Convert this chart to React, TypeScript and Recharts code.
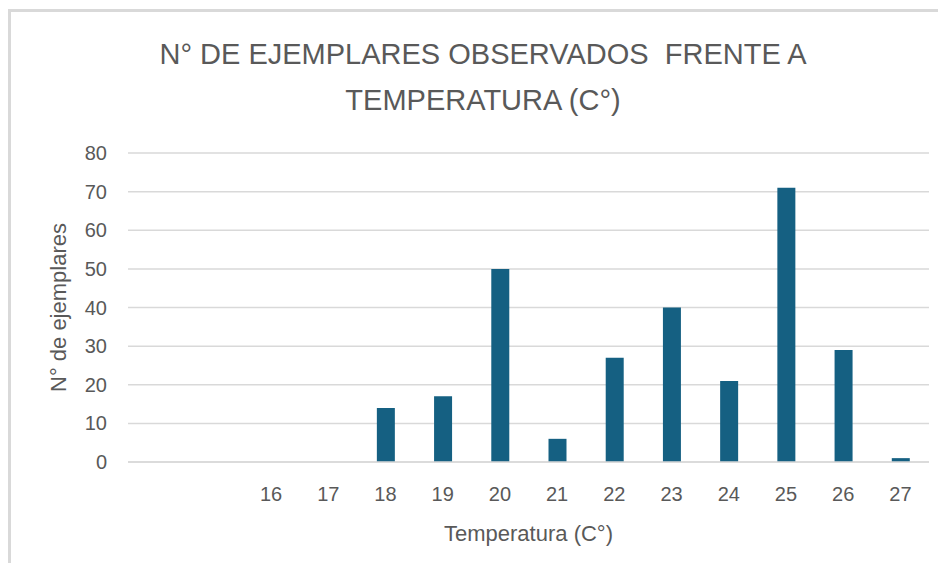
import { BarChart, Bar, XAxis, YAxis, CartesianGrid } from "recharts";

// Temperature categories (two empty slots before 16, as in the original sheet)
const temperatures = ["", "", "16", "17", "18", "19", "20", "21", "22", "23", "24", "25", "26", "27"];
const specimens = [null, null, 0, 0, 14, 17, 50, 6, 27, 40, 21, 71, 29, 1];
const yTicks = [0, 10, 20, 30, 40, 50, 60, 70, 80];

const titleLines = ["N° DE EJEMPLARES OBSERVADOS  FRENTE A", "TEMPERATURA (C°)"];

const data = temperatures.map((t, i) => ({ temp: t, count: specimens[i] }));

const TEXT = "#595959";
const GRID = "#d9d9d9";
const BAR = "#156082";
const FONT = "'Liberation Sans', Arial, sans-serif";

export default function App() {
  return (
    <div style={{ position: "relative", width: 946, height: 571, margin: -8, overflow: "hidden", background: "#fff" }}>
      <div
        style={{
          position: "absolute",
          left: 8,
          top: 9,
          width: 980,
          height: 620,
          borderTop: `3px solid ${GRID}`,
          borderLeft: `3px solid ${GRID}`,
        }}
      />
      <svg width={946} height={140} style={{ position: "absolute", left: 0, top: 0 }}>
        {titleLines.map((line, i) => (
          <text
            key={i}
            x={483}
            y={64 + i * 46}
            textAnchor="middle"
            fontFamily={FONT}
            fontSize={29}
            fill={TEXT}
            style={{ whiteSpace: "pre" }}
          >
            {line}
          </text>
        ))}
      </svg>
      <BarChart
        width={946}
        height={571}
        data={data}
        margin={{ top: 153, right: 17, bottom: 49, left: 68 }}
        style={{ position: "absolute", left: 0, top: 0 }}
      >
        <CartesianGrid vertical={false} stroke={GRID} strokeWidth={1.5} />
        <XAxis
          dataKey="temp"
          interval={0}
          height={60}
          tickLine={false}
          tickSize={0}
          tickMargin={25}
          axisLine={{ stroke: GRID, strokeWidth: 1.5 }}
          tick={{ fill: TEXT, fontSize: 20, fontFamily: FONT }}
          label={{
            content: ({ viewBox }: any) => (
              <text
                x={viewBox.x + viewBox.width / 2}
                y={541}
                textAnchor="middle"
                fontFamily={FONT}
                fontSize={22}
                fill={TEXT}
              >
                Temperatura (C°)
              </text>
            ),
          }}
        />
        <YAxis
          width={60}
          domain={[0, 80]}
          ticks={yTicks}
          axisLine={false}
          tickLine={false}
          tickSize={0}
          tickMargin={21}
          tick={{ fill: TEXT, fontSize: 20, fontFamily: FONT }}
          label={{
            content: ({ viewBox }: any) => {
              const cy = viewBox.y + viewBox.height / 2;
              return (
                <text
                  x={66}
                  y={cy}
                  transform={`rotate(-90, 66, ${cy})`}
                  textAnchor="middle"
                  fontFamily={FONT}
                  fontSize={22}
                  fill={TEXT}
                >
                  N° de ejemplares
                </text>
              );
            },
          }}
        />
        <Bar dataKey="count" fill={BAR} barSize={18} isAnimationActive={false} />
      </BarChart>
    </div>
  );
}
